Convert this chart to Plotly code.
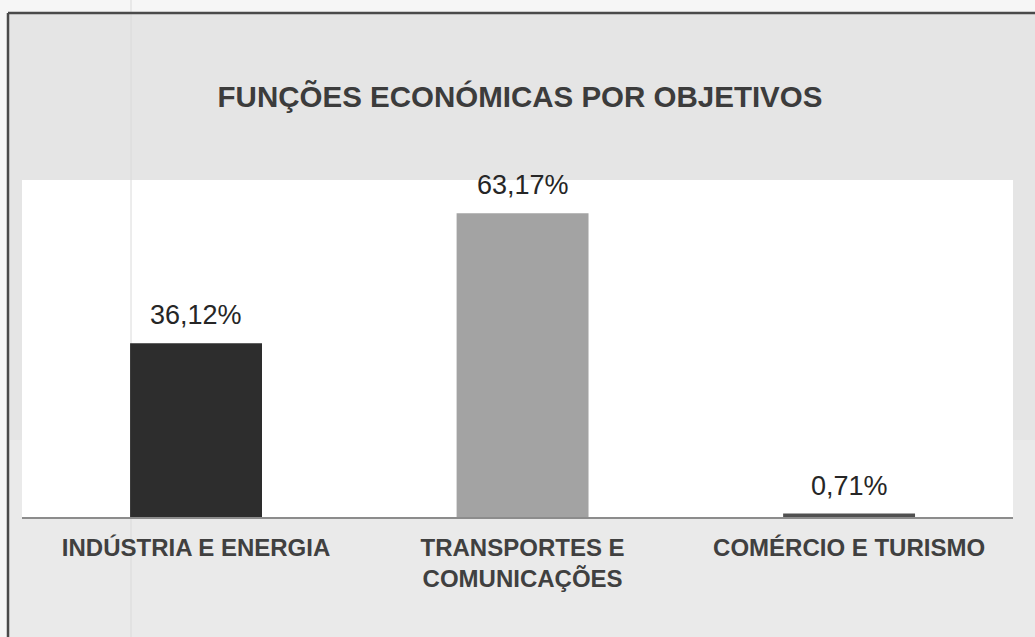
import plotly.graph_objects as go

categories = ["INDÚSTRIA E ENERGIA", "TRANSPORTES E<br>COMUNICAÇÕES", "COMÉRCIO E TURISMO"]
values = [36.12, 63.17, 0.71]
bar_colors = ["#2d2d2d", "#a3a3a3", "#505050"]
title_text = "FUNÇÕES ECONÓMICAS POR OBJETIVOS"

W, H = 1035, 637
L, R, T, B = 22, 22, 180, 120
PW, PH = W - L - R, H - T - B


def px(x):
    return (x - L) / PW


def py(y):
    return (H - B - y) / PH


fig = go.Figure()
fig.add_trace(go.Bar(
    x=categories, y=values, width=0.404,
    marker=dict(color=bar_colors, line=dict(width=0)),
    hoverinfo="skip",
))

for c, v in zip(categories, values):
    fig.add_annotation(
        x=c, y=v, xref="x", yref="y", yanchor="bottom", yshift=11,
        text=f"{v:.2f}".replace(".", ",") + "%", showarrow=False,
        font=dict(family="Liberation Sans, Arial", size=27, color="#262626"),
    )

shapes = [
    # scanned page background
    dict(type="rect", xref="paper", yref="paper", x0=px(-5), x1=px(W + 5), y0=py(-5), y1=py(H + 5),
         fillcolor="#f6f6f6", line=dict(width=0), layer="below"),
    dict(type="rect", xref="paper", yref="paper", x0=px(8), x1=px(W + 5), y0=py(13), y1=py(H + 5),
         fillcolor="#e5e5e5", line=dict(width=0), layer="below"),
    dict(type="rect", xref="paper", yref="paper", x0=px(8), x1=px(W + 5), y0=py(440), y1=py(H + 5),
         fillcolor="#eaeaea", line=dict(width=0), layer="below"),
    # white plot area
    dict(type="rect", xref="paper", yref="paper", x0=0, x1=1, y0=0, y1=1,
         fillcolor="#ffffff", line=dict(width=0), layer="below"),
    # faint scan line
    dict(type="line", xref="paper", yref="paper", x0=px(131), x1=px(131), y0=py(0), y1=py(H),
         line=dict(color="#dadada", width=1), layer="below"),
    # frame border
    dict(type="line", xref="paper", yref="paper", x0=px(8), x1=px(W + 5), y0=py(13), y1=py(13),
         line=dict(color="#4a4a4a", width=2.5), layer="below"),
    dict(type="line", xref="paper", yref="paper", x0=px(8), x1=px(8), y0=py(13), y1=py(H + 5),
         line=dict(color="#4a4a4a", width=2.5), layer="below"),
]

fig.update_layout(
    width=W, height=H,
    margin=dict(l=L, r=R, t=T, b=B, pad=0),
    paper_bgcolor="#eeeeee", plot_bgcolor="#ffffff",
    showlegend=False,
    shapes=shapes,
    title=dict(
        text=title_text, xref="paper", x=px(520), xanchor="center",
        yref="container", y=1 - 97 / H, yanchor="middle",
        font=dict(family="Liberation Sans, Arial", size=29.5, color="#3c3c3c", weight="bold"),
    ),
    bargap=0.6,
    xaxis=dict(
        range=[-0.533, 2.502], showgrid=False, zeroline=False,
        showline=True, linecolor="#8c8c8c", linewidth=1.5,
        ticks="outside", ticklen=8, tickcolor="rgba(0,0,0,0)",
        tickfont=dict(family="Liberation Sans, Arial", size=24, color="#404040", weight="bold"),
        fixedrange=True,
    ),
    yaxis=dict(
        range=[0, PH / 4.81], visible=False, showgrid=False, zeroline=False, fixedrange=True,
    ),
)

fig.write_html(
    "out.html",
    config={"displayModeBar": False},
    post_script="document.body.style.margin='0';document.body.style.overflow='hidden';",
)
